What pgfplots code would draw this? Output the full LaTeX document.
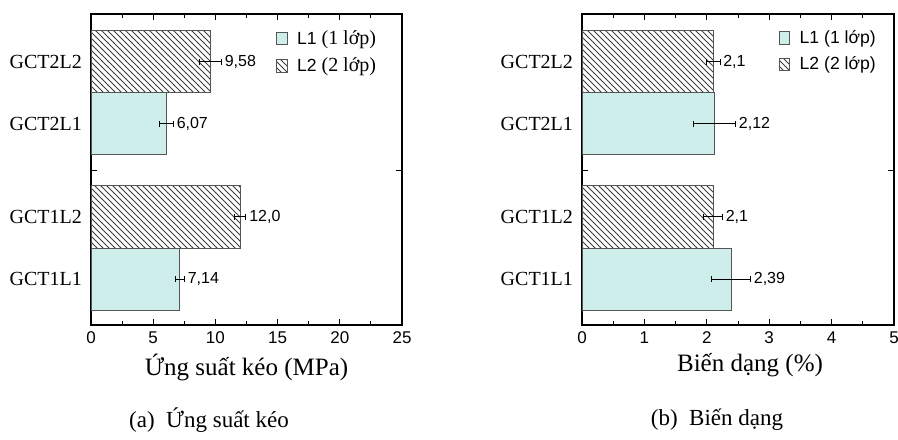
\documentclass[border=0pt]{standalone}
\usepackage{fontspec}
\setmainfont{Liberation Serif}
\setsansfont{Liberation Sans}
\usepackage{pgfplots}
\pgfplotsset{compat=1.18}
\usepackage{pgfplotstable}
\usetikzlibrary{patterns}

\definecolor{lone}{HTML}{CDEEEA}
\definecolor{edge}{HTML}{555555}

% y: GCT1L1=0, GCT1L2=1, GCT2L1=2.5, GCT2L2=3.5
\pgfplotstableread{
y   v     e     lab
0   7.14  0.37  7,14
2.5 6.07  0.55  6,07
}\sLone
\pgfplotstableread{
y   v     e     lab
1   12.0  0.45  12,0
3.5 9.58  0.90  9,58
}\sLtwo
\pgfplotstableread{
y   v     e     lab
0   2.39  0.31  2,39
2.5 2.12  0.34  2,12
}\bLone
\pgfplotstableread{
y   v     e     lab
1   2.10  0.15  2,1
3.5 2.10  0.11  2,1
}\bLtwo

\pgfplotsset{
  panel/.style={
    scale only axis,
    height=155.5pt,
    anchor=south west,
    xmin=0, ymin=-0.74, ymax=4.27,
    clip=false,
    axis line style={line width=0.8pt},
    every tick/.style={black, line width=0.5pt},
    major tick length=3pt, minor tick length=1.8pt,
    minor x tick num=1,
    ytick={1.75}, yticklabels={},
    extra y ticks={0,1,2.5,3.5},
    extra y tick labels={GCT1L1,GCT1L2,GCT2L1,GCT2L2},
    extra y tick style={major tick length=0pt,
      yticklabel style={font=\fontsize{10}{12}\selectfont, xshift=-1pt}},
    xticklabel style={font=\sffamily\fontsize{8.5}{10}\selectfont},
    /pgf/number format/assume math mode=true,
    xlabel style={font=\fontsize{12.5}{14}\selectfont, yshift=2pt},
    legend style={draw=none, fill=none, anchor=north east,
      font=\sffamily\fontsize{8.8}{10}\selectfont, row sep=1.2pt},
    legend cell align=left,
    legend image code/.code={\draw[##1] (0pt,-3.1pt) rectangle (5.2pt,3.1pt);
      \path (8pt,0pt);},
  },
  lonebar/.style={xbar, bar shift=0pt, bar width=1, fill=lone, draw=edge,
    line width=0.5pt,
    error bars/.cd, x dir=both, x explicit,
    error bar style={black, line width=0.5pt},
    error mark options={rotate=90, mark size=1.4pt, black}},
  ltwobar/.style={xbar, bar shift=0pt, bar width=1, draw=edge, fill=white,
    postaction={pattern=north west lines, pattern color=black!75},
    line width=0.5pt,
    error bars/.cd, x dir=both, x explicit,
    error bar style={black, line width=0.5pt},
    error mark options={rotate=90, mark size=1.4pt, black}},
  vlabel/.style={draw=none, mark=none, forget plot,
    nodes near coords, point meta=explicit symbolic,
    every node near coord/.append style={anchor=west, inner sep=1.5pt,
      font=\sffamily\fontsize{8}{9}\selectfont}},
}

\begin{document}
\begin{tikzpicture}
\useasboundingbox (0,0) rectangle (449pt,219.5pt);

\begin{axis}[panel, at={(45.5pt,57pt)}, width=155.5pt,
  xmax=25, xtick={0,5,...,25},
  xlabel={Ứng suất kéo (MPa)},
  legend style={at={(0.95,0.975)}}]
\addplot[lonebar] table[x=v, y=y, x error=e] {\sLone};
\addplot[ltwobar] table[x=v, y=y, x error=e] {\sLtwo};
\addplot[vlabel] table[x expr=\thisrow{v}+\thisrow{e}, y=y, meta=lab] {\sLone};
\addplot[vlabel] table[x expr=\thisrow{v}+\thisrow{e}, y=y, meta=lab] {\sLtwo};
\legend{L1 {\rmfamily\fontsize{10}{10}\selectfont (1 lớp)}, L2 {\rmfamily\fontsize{10}{10}\selectfont (2 lớp)}}
\end{axis}

\begin{axis}[panel, at={(291pt,57pt)}, width=156pt,
  xmax=5, xtick={0,1,...,5},
  xlabel={Biến dạng (\%)},
  xlabel style={xshift=6pt},
  legend style={at={(0.975,0.975)}}]
\addplot[lonebar] table[x=v, y=y, x error=e] {\bLone};
\addplot[ltwobar] table[x=v, y=y, x error=e] {\bLtwo};
\addplot[vlabel] table[x expr=\thisrow{v}+\thisrow{e}, y=y, meta=lab] {\bLone};
\addplot[vlabel] table[x expr=\thisrow{v}+\thisrow{e}, y=y, meta=lab] {\bLtwo};
\legend{L1 (1 lớp), L2 (2 lớp)}
\end{axis}

\node[font=\fontsize{11.5}{13}\selectfont] at (104.5pt,9.5pt) {(a)\hspace{0.5em}Ứng suất kéo};
\node[font=\fontsize{11.5}{13}\selectfont] at (358.5pt,9.5pt) {(b)\hspace{0.5em}Biến dạng};
\end{tikzpicture}
\end{document}
